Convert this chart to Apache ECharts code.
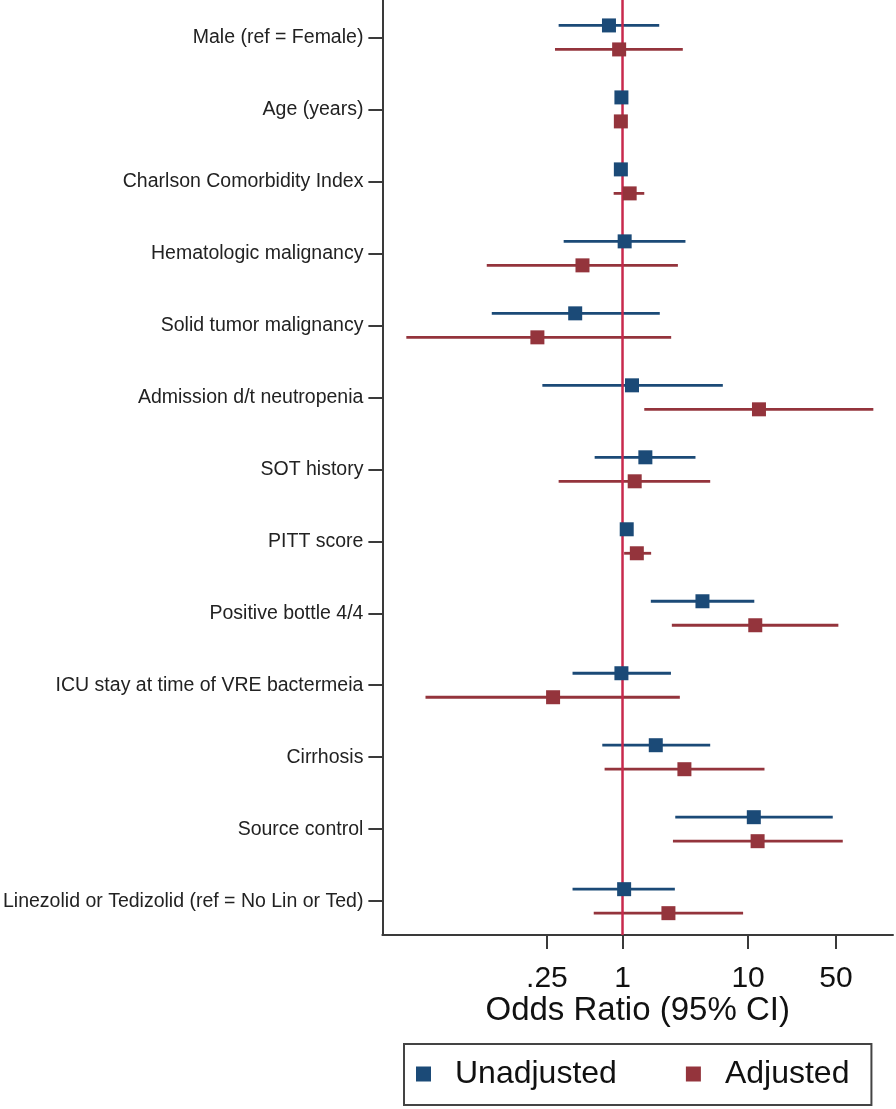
<!DOCTYPE html>
<html>
<head>
<meta charset="utf-8">
<script src="https://cdn.jsdelivr.net/npm/echarts@6/dist/echarts.min.js"></script>
<style>
html,body{margin:0;padding:0;background:#fff;}
#chart{width:896px;height:1109px;}
</style>
</head>
<body>
<div id="chart"></div>
<script>
// ---- data ----
const categories = [
  'Male (ref = Female)',
  'Age (years)',
  'Charlson Comorbidity Index',
  'Hematologic malignancy',
  'Solid tumor malignancy',
  'Admission d/t neutropenia',
  'SOT history',
  'PITT score',
  'Positive bottle 4/4',
  'ICU stay at time of VRE bactermeia',
  'Cirrhosis',
  'Source control',
  'Linezolid or Tedizolid (ref = No Lin or Ted)'
];
const unadjOR = [0.78, 0.98, 0.97, 1.04, 0.42, 1.19, 1.52, 1.08, 4.33, 0.98, 1.84, 11.1, 1.03];
const unadjLo = [0.31, 0.96, 0.95, 0.34, 0.091, 0.23, 0.60, 1.05, 1.68, 0.40, 0.69, 2.63, 0.40];
const unadjHi = [1.96, 1.00, 0.99, 3.17, 1.98, 6.29, 3.81, 1.11, 11.2, 2.43, 4.99, 47.2, 2.61];
const adjOR = [0.94, 0.97, 1.14, 0.48, 0.21, 12.2, 1.25, 1.30, 11.4, 0.28, 3.11, 11.9, 2.32];
const adjLo = [0.29, 0.95, 0.85, 0.083, 0.019, 1.49, 0.31, 1.03, 2.47, 0.027, 0.72, 2.52, 0.59];
const adjHi = [3.02, 0.99, 1.49, 2.76, 2.44, 99.3, 4.99, 1.69, 52.3, 2.86, 13.5, 56.7, 9.12];
const xTickValues = [0.25, 1, 10, 50];
const xTickLabels = ['.25', '1', '10', '50'];
const refValue = 1;

// ---- styling / layout ----
const BLUE = '#1b4a77';
const RED = '#94343c';
const REF = '#c8294d';
const AXIS = '#3a3a3a';
const FONT = "'Liberation Sans', Arial, sans-serif";
const OFFSET = 12 / 72; // vertical offset between the two estimates of one row
const yMin = -0.52, yMax = 12.47;

function rows(or, lo, hi, off) {
  return categories.map((c, i) => [or[i], i + off, lo[i], hi[i]]);
}
const unadjRows = rows(unadjOR, unadjLo, unadjHi, -OFFSET);
const adjRows = rows(adjOR, adjLo, adjHi, OFFSET);

function ciSeries(name, data, color) {
  return {
    type: 'custom',
    name: name,
    z: 1,
    silent: true,
    data: data,
    encode: { x: [2, 3], y: 1 },
    renderItem: function (params, api) {
      const y = api.value(1);
      const p1 = api.coord([api.value(2), y]);
      const p2 = api.coord([api.value(3), y]);
      return {
        type: 'line',
        shape: { x1: p1[0], y1: p1[1], x2: p2[0], y2: p2[1] },
        style: { stroke: color, lineWidth: 2.8 }
      };
    }
  };
}

const chart = echarts.init(document.getElementById('chart'), null, { renderer: 'canvas' });
chart.setOption({
  animation: false,
  backgroundColor: '#fff',
  textStyle: { fontFamily: FONT },
  grid: { left: 382, right: 3, top: 0, bottom: 174, containLabel: false },
  xAxis: {
    type: 'log',
    logBase: 10,
    min: 0.01225,
    max: 142.4,
    name: 'Odds Ratio (95% CI)',
    nameLocation: 'middle',
    nameGap: 59,
    nameMoveOverlap: false,
    nameTextStyle: { fontSize: 33, color: '#111', fontFamily: FONT },
    axisLine: { show: true, onZero: false, lineStyle: { color: AXIS, width: 2 } },
    axisTick: { show: true, length: 14, lineStyle: { color: AXIS, width: 2 }, customValues: xTickValues },
    axisLabel: {
      fontSize: 30, color: '#111', margin: 29, fontFamily: FONT,
      customValues: xTickValues,
      formatter: function (v) {
        let best = 0;
        xTickValues.forEach((t, i) => { if (Math.abs(Math.log(t) - Math.log(v)) < Math.abs(Math.log(xTickValues[best]) - Math.log(v))) best = i; });
        return xTickLabels[best];
      }
    },
    splitLine: { show: false },
    minorTick: { show: false }
  },
  yAxis: {
    type: 'value',
    inverse: true,
    min: yMin,
    max: yMax,
    axisLine: { show: true, onZero: false, lineStyle: { color: AXIS, width: 2 } },
    axisTick: { show: true, length: 14, lineStyle: { color: AXIS, width: 2 }, customValues: categories.map((c, i) => i) },
    axisLabel: {
      fontSize: 19.5, color: '#222', margin: 19, fontFamily: FONT,
      customValues: categories.map((c, i) => i),
      formatter: function (v) { return categories[Math.round(v)] || ''; }
    },
    splitLine: { show: false }
  },
  legend: {
    left: 404,
    top: 1044,
    orient: 'horizontal',
    itemWidth: 15,
    itemHeight: 15,
    itemGap: 69,
    padding: [14, 22, 15, 12],
    borderColor: '#444',
    borderWidth: 2,
    borderRadius: 0,
    textStyle: { fontSize: 32, color: '#111', fontFamily: FONT, padding: [0, 0, 0, 19] },
    data: [
      { name: 'Unadjusted', icon: 'rect' },
      { name: 'Adjusted', icon: 'rect' }
    ]
  },
  series: [
    ciSeries('Unadjusted CI', unadjRows, BLUE),
    ciSeries('Adjusted CI', adjRows, RED),
    {
      type: 'line',
      name: 'ref',
      z: 2,
      silent: true,
      symbol: 'none',
      data: [[refValue, yMin], [refValue, yMax]],
      lineStyle: { color: REF, width: 2.5 }
    },
    {
      type: 'scatter',
      name: 'Unadjusted',
      z: 3,
      symbol: 'rect',
      symbolSize: 14,
      data: unadjRows.map(r => [r[0], r[1]]),
      itemStyle: { color: BLUE, opacity: 1 }
    },
    {
      type: 'scatter',
      name: 'Adjusted',
      z: 3,
      symbol: 'rect',
      symbolSize: 14,
      data: adjRows.map(r => [r[0], r[1]]),
      itemStyle: { color: RED, opacity: 1 }
    }
  ]
});
</script>
</body>
</html>
